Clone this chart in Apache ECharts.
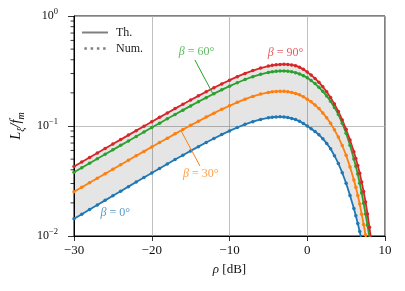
<!DOCTYPE html>
<html><head><meta charset="utf-8">
<script src="https://cdn.jsdelivr.net/npm/echarts@6/dist/echarts.min.js"></script>
<style>html,body{margin:0;padding:0;background:#fff}#c{width:405px;height:291px}</style>
</head><body><div id="c"></div>
<script>
// rho in dB
const rho = [-30,-29,-28,-27,-26,-25,-24,-23,-22,-21,-20,-19,-18,-17,-16,-15,-14,-13,-12,-11,-10,-9,-8,-7,-6,-5,
  -4.5,-4,-3.5,-3,-2.5,-2,-1.5,-1,-0.5,0,0.5,1,1.5,2,2.5,3,3.5,4,4.5,5,5.5,6,
  6.25,6.5,6.75,7,7.25,7.5,7.75,8,8.25];
// L_xi / f_m for each beta
const beta0 = [0.01435,0.01579,0.01739,0.01915,0.02109,0.02321,0.02554,0.02811,0.03093,0.03401,
  0.0374,0.0411,0.04513,0.04951,0.05427,0.0594,0.06492,0.07081,0.077,0.08351,
  0.09019,0.09689,0.1035,0.1095,0.1148,0.1188,
  0.1201,0.1209,0.1211,0.1207,0.1194,0.1172,0.1143,0.1104,0.1056,0.0998,
  0.0946,0.0891,0.0832,0.0767,0.0695,0.0621,0.0537,0.0457,0.0376,0.0302,0.0234,0.0178,
  0.0153,0.013,0.01096,0.00912,null,null,null,null,null];
const beta30 = [0.0253,0.02779,0.03054,0.03354,0.03684,0.04047,0.04444,0.0488,0.05357,0.05879,
  0.06449,0.07071,0.07745,0.08484,0.09282,0.1014,0.1106,0.1205,0.1309,0.1418,
  0.1529,0.1642,0.1753,0.1856,0.1949,0.2019,
  0.2044,0.2062,0.2068,0.2066,0.205,0.202,0.1977,0.1919,0.1844,0.1753,
  0.1658,0.1554,0.1439,0.1315,0.1186,0.1057,0.0923,0.0793,0.0664,0.0542,0.0425,0.0323,
  0.0277,0.0234,0.0195,0.0158,0.01274,0.01021,0.00813,null,null];
const beta60 = [0.03793,0.04169,0.04579,0.0503,0.05527,0.0607,0.06666,0.07318,0.08035,0.08816,
  0.09676,0.1061,0.1163,0.1274,0.1394,0.1523,0.1662,0.181,0.1967,0.2132,
  0.2302,0.2474,0.2646,0.2806,0.2952,0.3068,
  0.3111,0.3144,0.316,0.3163,0.3148,0.3111,0.3053,0.2974,0.2869,0.2741,
  0.2587,0.2428,0.2249,0.2066,0.1871,0.168,0.1476,0.1274,0.1059,0.0861,0.0668,0.0501,
  0.043,0.0366,0.0302,0.0246,0.0198,0.01585,0.0125,0.00977,null];
const beta90 = [0.04281,0.04706,0.05167,0.05679,0.06239,0.06853,0.07523,0.08263,0.09073,0.09959,
  0.1092,0.1198,0.1313,0.1439,0.1574,0.1721,0.1879,0.2047,0.2227,0.2414,
  0.2609,0.2807,0.3004,0.319,0.3363,0.3504,
  0.3558,0.3601,0.3626,0.3637,0.3628,0.3594,0.3538,0.3428,0.3273,0.309,
  0.2904,0.2707,0.2495,0.2278,0.2046,0.182,0.1581,0.1357,0.1135,0.0933,0.0745,0.0582,
  0.0507,0.0437,0.0372,0.0309,0.0254,0.0204,0.01585,0.012,0.00891];

const betaDeg = ['0','30','60','90'];
const colors = ['#1f77b4','#ff7f0e','#2ca02c','#d62728'];
const textColors = ['rgba(31,119,180,0.75)','rgba(255,127,14,0.75)','rgba(44,160,44,0.75)','rgba(214,39,40,0.75)'];
// annotation anchor points (data coords)
const labelRho = [-24.7, -13.7, -14.25, -2.8];
const labelVal = [0.0162, 0.037, 0.474, 0.464];
// leader lines
const leaderRhoFrom = [-13.8, -14.45];
const leaderValFrom = [0.0433, 0.398];
const leaderRhoTo = [-16.25, -12.13];
const leaderValTo = [0.0910, 0.196];
const leaderColor = [1, 2];
const legendNames = ['Th.', 'Num.'];
const minorTickVals = [0.02,0.03,0.04,0.05,0.06,0.07,0.08,0.09,0.2,0.3,0.4,0.5,0.6,0.7,0.8,0.9];

const FONT = 'Liberation Serif';
const curves = [beta0, beta30, beta60, beta90];
function pairs(ys){ return rho.map((r,i)=>[r, ys[i]]).filter(p => p[1] != null); }

const chart = echarts.init(document.getElementById('c'), null, {renderer:'canvas'});

const series = [];
// shaded band between beta=0 and beta=90
series.push({
  type:'custom', z:1, silent:true, data:[[-30, 0.1]],
  renderItem: function(params, api){
    const up = pairs(beta90).map(p => api.coord(p));
    const lo = pairs(beta0).map(p => api.coord(p)).reverse();
    const cs = params.coordSys;
    return {type:'group', children:[{type:'polygon', shape:{points: up.concat(lo)}, style:{fill:'rgba(0,0,0,0.1)'}}],
      clipPath:{type:'rect', shape:{x:cs.x, y:cs.y, width:cs.width, height:cs.height}}};
  }
});
curves.forEach((ys, k) => {
  series.push({
    type:'line', name:'β = '+betaDeg[k]+'°', z:3, data: pairs(ys),
    symbol:'circle', symbolSize:3.5, showAllSymbol:true, clip:true,
    lineStyle:{color:colors[k], width:1.8}, itemStyle:{color:colors[k]}
  });
});
// legend dummies
series.push({type:'line', name:legendNames[0], data:[], symbol:'none', lineStyle:{color:'#808080', width:2}, itemStyle:{color:'#808080'}});
series.push({type:'line', name:legendNames[1], data:[], symbol:'none', lineStyle:{color:'#808080', width:2.5, type:'dotted'}, itemStyle:{color:'#808080'}});
// leader lines
series.push({
  type:'custom', z:4, silent:true,
  data: leaderRhoFrom.map((r,i)=>[r, leaderValFrom[i], leaderRhoTo[i], leaderValTo[i], leaderColor[i]]),
  renderItem: function(params, api){
    const a = api.coord([api.value(0), api.value(1)]);
    const b = api.coord([api.value(2), api.value(3)]);
    return {type:'line', shape:{x1:a[0], y1:a[1], x2:b[0], y2:b[1]}, style:{stroke:colors[api.value(4)], lineWidth:1}};
  }
});
// annotation texts
series.push({
  type:'custom', z:5, silent:true,
  data: labelRho.map((r,i)=>[r, labelVal[i], i]),
  renderItem: function(params, api){
    const i = api.value(2);
    const p = api.coord([api.value(0), api.value(1)]);
    return {type:'text', x:p[0], y:p[1], style:{
      text:'{b|β} = ' + betaDeg[i] + '°', fill:textColors[i], align:'center', verticalAlign:'middle',
      font:'12px "'+FONT+'"',
      rich:{b:{fontStyle:'italic', fontSize:12, fontFamily:FONT, fill:textColors[i]}}
    }};
  }
});
// minor ticks on log axis
series.push({
  type:'custom', z:5, silent:true, clip:false,
  data: minorTickVals.map(v => [-30, v]),
  renderItem: function(params, api){
    const p = api.coord([api.value(0), api.value(1)]);
    return {type:'line', shape:{x1:p[0]-3.5, y1:p[1], x2:p[0], y2:p[1]}, style:{stroke:'#000', lineWidth:0.8}};
  }
});

const solidIcon = 'path://M0,0h26v2h-26z';
const dotIcon = 'path://M0,0h3v3h-3z M7.5,0h3v3h-3z M15,0h3v3h-3z M22.5,0h3v3h-3z';

const option = {
  animation:false,
  backgroundColor:'#fff',
  grid:{left:74, right:20, top:16, bottom:55, show:true, borderColor:'#000', borderWidth:1, outerBoundsMode:'none'},
  legend:{
    data:[{name:legendNames[0], icon:solidIcon}, {name:legendNames[1], icon:dotIcon}],
    orient:'vertical', left:77, top:21, itemWidth:26, itemHeight:2.5, itemGap:3, selectedMode:false,
    itemStyle:{color:'#808080', borderWidth:0},
    textStyle:{fontFamily:FONT, fontSize:12, color:'#222', padding:[0,0,0,3], lineHeight:13}
  },
  xAxis:{
    type:'value', min:-30, max:10, interval:10,
    axisLine:{show:true, onZero:false, lineStyle:{color:'#000', width:1}},
    axisTick:{show:true, length:5, lineStyle:{color:'#000', width:0.8}},
    axisLabel:{margin:8, color:'#111', fontFamily:FONT, fontSize:13,
      formatter: v => v < 0 ? '\u2212' + Math.abs(v) : String(v)},
    splitLine:{show:true, lineStyle:{color:'#b0b0b0', width:0.8}},
    name:'{i|ρ} [dB]', nameLocation:'middle', nameGap:27,
    nameTextStyle:{fontFamily:FONT, fontSize:13, color:'#111',
      rich:{i:{fontStyle:'italic', fontFamily:FONT, fontSize:13, color:'#111'}}}
  },
  yAxis:{
    type:'log', logBase:10, min:0.01, max:1,
    axisLine:{show:true, onZero:false, lineStyle:{color:'#000', width:1}},
    axisTick:{show:true, length:6, lineStyle:{color:'#000', width:0.8}},
    axisLabel:{margin:16, color:'#111',
      formatter: v => { const e = Math.round(Math.log10(v)); return '{b|10}{s|' + (e < 0 ? '\u2212' : '') + Math.abs(e) + '}'; },
      rich:{b:{fontFamily:FONT, fontSize:12, lineHeight:18, color:'#111'}, s:{fontFamily:FONT, fontSize:8.5, lineHeight:9, verticalAlign:'top', color:'#111'}}},
    splitLine:{show:true, lineStyle:{color:'#b0b0b0', width:0.8}},
    name:'{i|L}{s|ξ}{i|/f}{s|m}', nameLocation:'middle', nameGap:46, nameRotate:90,
    nameTextStyle:{color:'#111',
      rich:{i:{fontStyle:'italic', fontFamily:FONT, fontSize:14.5, lineHeight:19, color:'#111'},
            s:{fontStyle:'italic', fontFamily:FONT, fontSize:10, lineHeight:10, verticalAlign:'bottom', color:'#111'}}}
  },
  series: series
};
chart.setOption(option);
</script>
</body></html>
